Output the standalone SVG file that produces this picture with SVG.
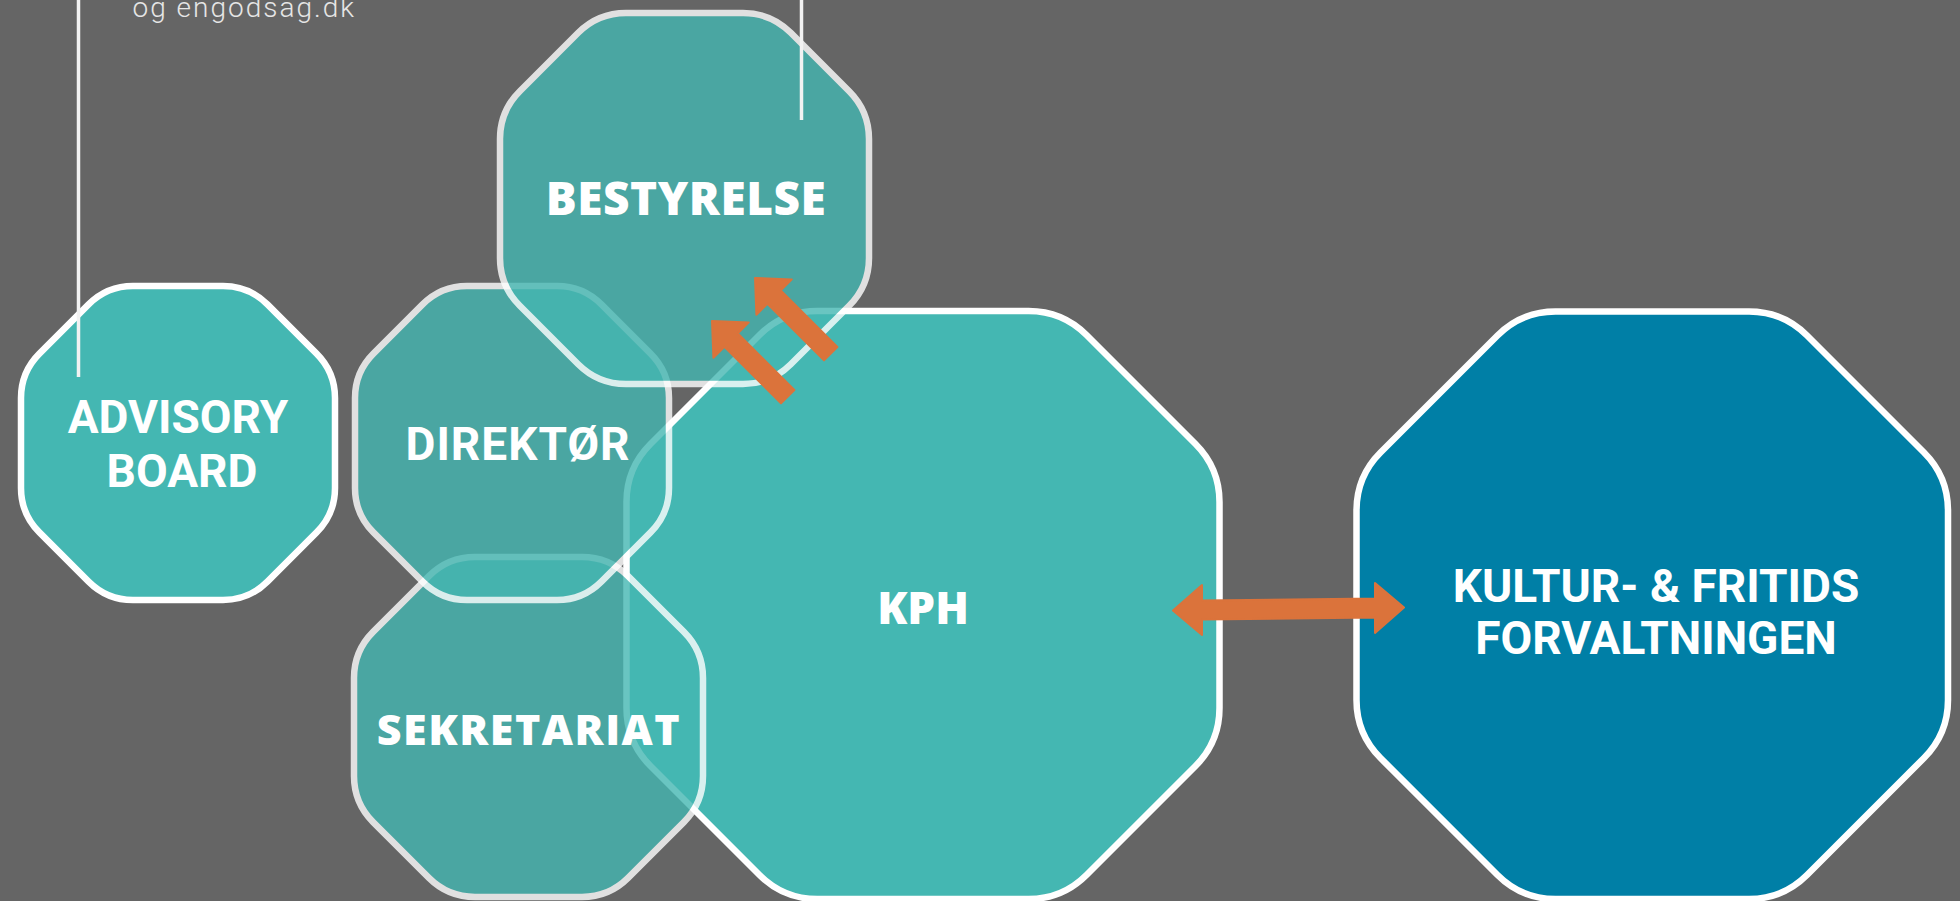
<svg xmlns="http://www.w3.org/2000/svg" width="1960" height="901" viewBox="0 0 1960 901">
<style>
.bg{fill:#656565}
.solid{fill:#44B7B2;stroke:#FFFFFF;stroke-width:6.5}
.glass{fill:#44B7B2;stroke:#FFFFFF;stroke-width:6.5;opacity:0.8}
.blue{fill:#007FA6;stroke:#FFFFFF;stroke-width:6.5}
.din{font-family:Roboto,"Liberation Sans",sans-serif;font-weight:700;font-size:46px;fill:#FFFFFF;text-anchor:middle}
.geo{font-family:"Open Sans","Liberation Sans",sans-serif;font-weight:800;fill:#FFFFFF;text-anchor:middle}
.thin{font-family:Roboto,"Liberation Sans",sans-serif;font-weight:300;font-size:28px;fill:#E6E6E6}
.arrow{fill:#DB733B;stroke:#DB733B;stroke-width:2;stroke-linejoin:round}
.line{stroke:#F2F2F2;stroke-width:3.5;fill:none}
</style>
<rect class="bg" x="0" y="0" width="1960" height="901"/>
<text class="thin" x="132.5" y="17" letter-spacing="2">og engodsag.dk</text>

<g id="node-kph">
<path class="solid" d="M817.5,311 L1028.5,311 Q1062.5,311 1086.5,335 L1195.5,444 Q1219.5,468 1219.5,502 L1219.5,708 Q1219.5,742 1195.5,766 L1086.5,875 Q1062.5,899 1028.5,899 L817.5,899 Q783.5,899 759.5,875 L650.5,766 Q626.5,742 626.5,708 L626.5,502 Q626.5,468 650.5,444 L759.5,335 Q783.5,311 817.5,311 Z"/>
<text class="geo" x="923" y="624" font-size="44">KPH</text>
</g>

<g id="node-sekretariat">
<path class="glass" d="M475,557 L582,557 Q609,557 628.1,576.1 L683.9,631.9 Q703,651 703,678 L703,776 Q703,803 683.9,822.1 L628.1,877.9 Q609,897 582,897 L475,897 Q448,897 428.9,877.9 L373.1,822.1 Q354,803 354,776 L354,678 Q354,651 373.1,631.9 L428.9,576.1 Q448,557 475,557 Z"/>
<text class="geo" x="529" y="745" font-size="43" letter-spacing="1.5">SEKRETARIAT</text>
</g>

<g id="node-direktor">
<path class="glass" d="M467,286 L557,286 Q583,286 601.4,304.4 L650.6,353.6 Q669,372 669,398 L669,488 Q669,514 650.6,532.4 L601.4,581.6 Q583,600 557,600 L467,600 Q441,600 422.6,581.6 L373.4,532.4 Q355,514 355,488 L355,398 Q355,372 373.4,353.6 L422.6,304.4 Q441,286 467,286 Z"/>
<text class="din" x="518" y="460" letter-spacing="1">DIREKTØR</text>
</g>

<g id="node-bestyrelse">
<path class="glass" d="M626,13 L743,13 Q771,13 790.8,32.8 L849.2,91.2 Q869,111 869,139 L869,258 Q869,286 849.2,305.8 L790.8,364.2 Q771,384 743,384 L626,384 Q598,384 578.2,364.2 L519.8,305.8 Q500,286 500,258 L500,139 Q500,111 519.8,91.2 L578.2,32.8 Q598,13 626,13 Z"/>
<text class="geo" x="686" y="215" font-size="46" letter-spacing="0.5">BESTYRELSE</text>
</g>

<g id="node-advisory">
<path class="solid" d="M133,286 L223,286 Q249,286 267.4,304.4 L316.6,353.6 Q335,372 335,398 L335,488 Q335,514 316.6,532.4 L267.4,581.6 Q249,600 223,600 L133,600 Q107,600 88.6,581.6 L39.4,532.4 Q21,514 21,488 L21,398 Q21,372 39.4,353.6 L88.6,304.4 Q107,286 133,286 Z"/>
<text class="din" x="178" y="433">ADVISORY</text>
<text class="din" x="182" y="487">BOARD</text>
</g>

<g id="node-kultur">
<path class="blue" d="M1555.5,311.5 L1749,311.5 Q1783,311.5 1807,335.5 L1924,452.5 Q1948,476.5 1948,510.5 L1948,700 Q1948,734 1924,758 L1807,875 Q1783,899 1749,899 L1555.5,899 Q1521.5,899 1497.5,875 L1380.5,758 Q1356.5,734 1356.5,700 L1356.5,510.5 Q1356.5,476.5 1380.5,452.5 L1497.5,335.5 Q1521.5,311.5 1555.5,311.5 Z"/>
<text class="din" x="1656" y="602" font-size="47">KULTUR- &amp; FRITIDS</text>
<text class="din" x="1656" y="654" font-size="47">FORVALTNINGEN</text>
</g>

<g id="connectors">
<line class="line" x1="78.5" y1="0" x2="78.5" y2="377"/>
<line class="line" x1="801.5" y1="0" x2="801.5" y2="120"/>
<polygon class="arrow" points="1173,610.5 1202,585.1 1202,600.6 1375,598.4 1375,582.9 1404,607.5 1375,632.9 1375,617.4 1202,619.6 1202,635.1"/>
<polygon class="arrow" points="755,278 791.8,279.4 780.8,290.4 837.4,347 824,360.4 767.4,303.8 756.4,314.8"/>
<polygon class="arrow" points="712,321 748.8,322.4 737.8,333.4 794.4,390 781,403.4 724.4,346.8 713.4,357.8"/>
</g>
</svg>
